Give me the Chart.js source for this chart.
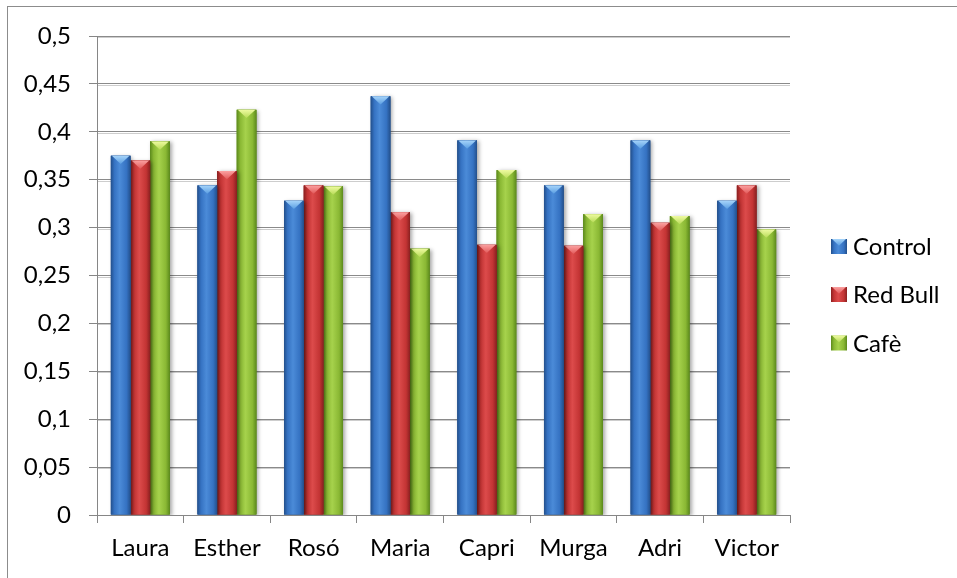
<!DOCTYPE html>
<html>
<head>
<meta charset="utf-8">
<script src="https://cdn.jsdelivr.net/npm/chart.js@4/dist/chart.umd.min.js"></script>
<style>
  html, body { margin: 0; padding: 0; background: #ffffff; }
  #wrap { width: 957px; height: 578px; position: relative; }
</style>
</head>
<body>
<div id="wrap"><canvas id="chart" width="957" height="578"></canvas></div>
<script>
// Participants and measured values per drink
const categories = ['Laura', 'Esther', 'Rosó', 'Maria', 'Capri', 'Murga', 'Adri', 'Victor'];
const controlValues = [0.375, 0.344, 0.328, 0.437, 0.391, 0.344, 0.391, 0.328];
const redBullValues = [0.370, 0.359, 0.344, 0.316, 0.282, 0.281, 0.305, 0.344];
const cafeValues = [0.390, 0.423, 0.343, 0.278, 0.360, 0.314, 0.312, 0.298];
const seriesNames = ['Control', 'Red Bull', 'Cafè'];
const yTickLabels = ['0', '0,05', '0,1', '0,15', '0,2', '0,25', '0,3', '0,35', '0,4', '0,45', '0,5'];

const FONT = 'Lato, "Noto Sans", sans-serif';
const FONT_SIZE = 24;

// Shading palettes for the bevelled bars: edge, mid, centre, bevel highlight
const palettes = [
  { edge: '#23508c', mid: '#3572c2', center: '#4b8bd8', hiTop: '#a6d4fa', hiBot: '#5a9ee2', flat: '#3a77c6' },
  { edge: '#8a2020', mid: '#c33434', center: '#dc4b4b', hiTop: '#fba0a0', hiBot: '#e25a5a', flat: '#c83a3a' },
  { edge: '#5c8a1c', mid: '#8ab834', center: '#a6d24c', hiTop: '#eefaa0', hiBot: '#b8dc58', flat: '#94c23e' }
];

function bodyGradient(ctx, left, right, p) {
  const g = ctx.createLinearGradient(left, 0, right, 0);
  g.addColorStop(0, p.edge);
  g.addColorStop(0.18, p.mid);
  g.addColorStop(0.45, p.center);
  g.addColorStop(0.8, p.mid);
  g.addColorStop(1, p.edge);
  return g;
}

function drawBevelBox(ctx, left, top, right, bottom, p, withShadow) {
  const w = right - left;
  ctx.save();
  if (withShadow) {
    ctx.shadowColor = 'rgba(0,0,0,0.35)';
    ctx.shadowBlur = 4;
    ctx.shadowOffsetX = 2;
    ctx.shadowOffsetY = 1;
    ctx.fillStyle = p.edge;
    ctx.fillRect(left, top, w, bottom - top);
  }
  ctx.restore();
  ctx.save();
  ctx.fillStyle = bodyGradient(ctx, left, right, p);
  ctx.fillRect(left, top, w, bottom - top);
  // bevelled cap: lighter triangle pointing down
  const d = Math.min(w * 0.42, bottom - top);
  const cx = left + w / 2;
  const tg = ctx.createLinearGradient(0, top, 0, top + d);
  tg.addColorStop(0, p.hiTop);
  tg.addColorStop(1, p.hiBot);
  ctx.fillStyle = tg;
  ctx.beginPath();
  ctx.moveTo(left + 1, top);
  ctx.lineTo(right - 1, top);
  ctx.lineTo(cx, top + d);
  ctx.closePath();
  ctx.fill();
  ctx.restore();
}

// soft second line under each horizontal gridline
const gridShade = {
  id: 'gridShade',
  beforeDatasetsDraw(chart) {
    const ctx = chart.ctx;
    const y = chart.scales.y;
    const area = chart.chartArea;
    ctx.save();
    ctx.strokeStyle = '#cdcdcd';
    ctx.lineWidth = 1;
    y.ticks.forEach(t => {
      const py = Math.round(y.getPixelForValue(t.value)) + 1.5;
      if (py > area.bottom) return;
      ctx.beginPath();
      ctx.moveTo(area.left + 1, py);
      ctx.lineTo(area.right, py);
      ctx.stroke();
    });
    ctx.restore();
  }
};

const bevelBars = {
  id: 'bevelBars',
  afterDatasetDraw(chart, args) {
    const ctx = chart.ctx;
    const meta = args.meta;
    const p = palettes[args.index];
    const area = chart.chartArea;
    ctx.save();
    ctx.beginPath();
    ctx.rect(area.left, area.top - 2, area.right - area.left + 6, area.bottom - area.top + 2);
    ctx.clip();
    meta.data.forEach(bar => {
      const { x, y, base, width } = bar.getProps(['x', 'y', 'base', 'width'], true);
      drawBevelBox(ctx, x - width / 2, y, x + width / 2, base, p, true);
    });
    ctx.restore();
  }
};

const frameAndLegend = {
  id: 'frameAndLegend',
  beforeDraw(chart) {
    const ctx = chart.ctx;
    ctx.save();
    ctx.fillStyle = '#ffffff';
    ctx.fillRect(0, 0, chart.width, chart.height);
    ctx.strokeStyle = '#8c8c8c';
    ctx.lineWidth = 1;
    ctx.strokeRect(7.5, 6.5, chart.width + 10, chart.height + 10);
    ctx.restore();
  },
  afterDraw(chart) {
    const ctx = chart.ctx;
    const rowY = [246.5, 294.5, 343];
    ctx.save();
    chart.data.datasets.forEach((ds, i) => {
      const cy = rowY[i];
      drawBevelBox(ctx, 831, cy - 7.5, 847, cy + 7.5, palettes[i], false);
      ctx.fillStyle = '#000000';
      ctx.font = FONT_SIZE + 'px ' + FONT;
      ctx.textAlign = 'left';
      ctx.textBaseline = 'middle';
      ctx.fillText(ds.label, 853, cy + 1);
    });
    ctx.restore();
  }
};

const seriesValues = [controlValues, redBullValues, cafeValues];

new Chart(document.getElementById('chart'), {
  type: 'bar',
  data: {
    labels: categories,
    datasets: seriesNames.map((name, i) => ({
      label: name,
      data: seriesValues[i],
      backgroundColor: palettes[i].flat,
      borderWidth: 0,
      categoryPercentage: 0.68,
      barPercentage: 1.0
    }))
  },
  options: {
    responsive: false,
    animation: false,
    devicePixelRatio: 1,
    layout: { padding: { left: 0, top: 36, right: 167, bottom: 0 } },
    plugins: {
      legend: { display: false },
      tooltip: { enabled: false }
    },
    scales: {
      x: {
        offset: true,
        grid: {
          offset: true,
          drawOnChartArea: false,
          drawTicks: true,
          tickLength: 8,
          tickColor: '#868686'
        },
        border: { color: '#868686', width: 1 },
        ticks: {
          color: '#000000',
          font: { family: FONT, size: FONT_SIZE },
          padding: 11,
          maxRotation: 0
        },
        afterFit(axis) { axis.height = 63; }
      },
      y: {
        min: 0,
        max: 0.5,
        ticks: {
          stepSize: 0.05,
          color: '#000000',
          font: { family: FONT, size: FONT_SIZE },
          padding: 18,
          callback: (value, index) => yTickLabels[index]
        },
        grid: {
          color: '#8a8a8a',
          lineWidth: 1,
          tickLength: 8,
          tickColor: '#868686'
        },
        border: { color: '#868686', width: 1 },
        afterFit(axis) { axis.width = 97; }
      }
    }
  },
  plugins: [frameAndLegend, gridShade, bevelBars]
});
</script>
</body>
</html>
